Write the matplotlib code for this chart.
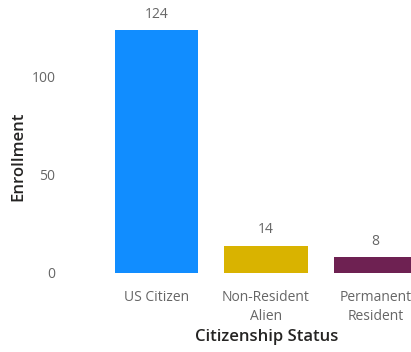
import numpy as np
import matplotlib.pyplot as plt

categories = ["US Citizen", "Non-Resident\nAlien", "Permanent\nResident"]
enrollment = [124, 14, 8]
colors = ["#118DFF", "#D9B300", "#6E2152"]
y_ticks = [0, 50, 100]

plt.rcParams['font.family'] = ['Open Sans', 'DejaVu Sans']

fig = plt.figure(figsize=(4.11, 3.52), dpi=100)
# plot area in figure pixels: left 68, right 411, bottom y=273, top y=20
ax = fig.add_axes([68/411, (352-273)/352, (411-68)/411, (273-20)/352])

x = np.arange(len(categories))
bars = ax.bar(x, enrollment, width=0.76, color=colors)

step = 109.5  # px per category
ax.set_xlim(-(156.5-68)/step, -(156.5-68)/step + (411-68)/step)
ax.set_ylim(0, (273-20)/1.96)

for b, v in zip(bars, enrollment):
    ax.annotate(str(v), (b.get_x() + b.get_width()/2, v), xytext=(0, 6),
                textcoords="offset points", ha="center", va="bottom",
                fontsize=10, color="#666666")

ax.set_xticks(x)
ax.set_xticklabels(categories, fontsize=10, color="#666666", linespacing=1.4)
ax.set_yticks(y_ticks)
ax.set_yticklabels([str(t) for t in y_ticks], fontsize=10, color="#666666")
ax.tick_params(axis="both", length=0)
ax.tick_params(axis="x", pad=12)
ax.tick_params(axis="y", pad=9)

for s in ax.spines.values():
    s.set_visible(False)

fig.text(267/411, 1 - 337/352, "Citizenship Status", fontsize=12, color="#252423",
         fontweight="semibold", ha="center", va="center")
fig.text(18/411, 1 - 156/352, "Enrollment", fontsize=12, color="#252423",
         fontweight="semibold", ha="center", va="center", rotation=90)

fig.savefig("out.png", dpi=100)
